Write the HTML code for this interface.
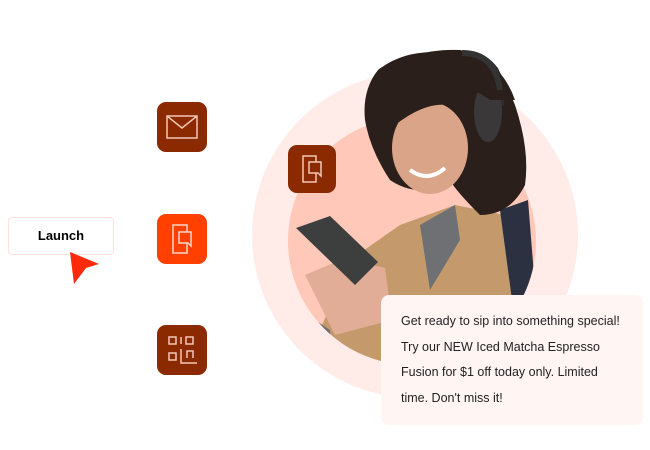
<!DOCTYPE html>
<html><head><style>
body{margin:0;width:650px;height:450px;background:#fff;position:relative;overflow:hidden;font-family:"Liberation Sans",sans-serif}
.a{position:absolute}
.ic{position:absolute;width:50px;height:50px;border-radius:9px;background:#8b2a00}
</style></head><body>
<svg class="a" style="left:0;top:0" width="650" height="450">
<circle cx="415" cy="235" r="163" fill="#ffece8"/>
<circle cx="412" cy="241" r="124" fill="#ffc8b8"/>
<defs><clipPath id="c"><path d="M0 0H650V241H536A124 124 0 0 1 288 241H0Z"/><circle cx="412" cy="241" r="124"/></clipPath></defs>
<g clip-path="url(#c)">
<!-- coat -->
<path d="M320 330 L350 260 L400 225 L455 205 L505 215 L530 240 L540 330 L540 400 L320 400Z" fill="#c49a6c"/>
<path d="M420 225 L455 205 L460 240 L430 290Z" fill="#6e7073"/>
<path d="M500 210 L528 200 L536 300 L512 300Z" fill="#2b3140"/>
<!-- hair -->
<path d="M378 70 Q410 45 460 55 Q500 65 515 105 Q530 150 525 185 Q510 215 480 215 Q455 190 450 180 Q420 200 390 180 Q370 150 365 120 Q362 90 378 70Z" fill="#2a1f1a"/>
<ellipse cx="430" cy="148" rx="38" ry="46" fill="#d9a487"/>
<path d="M385 110 Q410 70 470 80 Q480 100 470 115 Q440 90 395 125Z" fill="#2a1f1a"/>
<path d="M460 60 Q480 50 495 70 Q505 90 500 105" stroke="#2e2e2e" stroke-width="7" fill="none"/>
<ellipse cx="488" cy="112" rx="14" ry="30" fill="#3a3838"/>
<path d="M410 170 Q428 183 445 168" stroke="#fff" stroke-width="4" fill="none"/>
<!-- hands & phone -->
<path d="M305 275 L345 258 L385 268 L392 320 L335 335Z" fill="#e2ad96"/>
<path d="M296 228 L330 216 L378 262 L355 285Z" fill="#3d3f3e"/>
<path d="M300 310 L330 330 L335 380 L300 380Z" fill="#6f6f6f"/>
</g>
<path d="M378 80 Q405 48 460 50 Q500 58 515 100 L490 100 Q450 70 400 100Z" fill="#2a1f1a"/>
<path d="M462 53 Q495 53 500 90" stroke="#333" stroke-width="6" fill="none"/>
</svg>
<div class="ic" style="left:157px;top:102px"><svg width="50" height="50"><rect x="10" y="14" width="30" height="22" fill="none" stroke="#f4c6b6" stroke-width="1.5"/><path d="M10 14 L25 26 L40 14" fill="none" stroke="#f4c6b6" stroke-width="1.5"/></svg></div>
<div class="ic" style="left:157px;top:214px;background:#ff4000"><svg width="50" height="50"><rect x="16" y="11" width="14" height="28" fill="none" stroke="#ffd6c8" stroke-width="1.5"/><path d="M22 18 H34 V32 L31 29 H22Z" fill="#ff4000" stroke="#ffd6c8" stroke-width="1.5"/></svg></div>
<div class="ic" style="left:157px;top:325px"><svg width="50" height="50"><g fill="none" stroke="#f4c6b6" stroke-width="1.5"><rect x="12" y="12" width="7" height="7"/><rect x="29" y="12" width="7" height="7"/><rect x="12" y="28" width="7" height="7"/><path d="M24 12V19M24 24V38H40M30 33V26H36V33"/></g></svg></div>
<div class="ic" style="left:288px;top:145px;width:48px;height:48px"><svg width="48" height="48"><rect x="15" y="11" width="13" height="26" fill="none" stroke="#f4c6b6" stroke-width="1.5"/><path d="M21 17 H33 V31 L30 28 H21Z" fill="#8b2a00" stroke="#f4c6b6" stroke-width="1.5"/></svg></div>
<div class="a" style="left:8px;top:217px;width:104px;height:36px;border:1px solid #ffe0da;border-radius:4px;background:#fff;font-weight:bold;font-size:13px;line-height:36px;text-align:center">Launch</div>
<svg class="a" style="left:66px;top:250px" width="40" height="36"><path d="M4 2 L33 14 L20 18 L8 34Z" fill="#ff2a0a"/></svg>
<div class="a" style="left:381px;top:295px;width:262px;height:130px;background:#fff5f3;border-radius:8px;box-sizing:border-box;padding:14px 0 0 20px;font-size:12.5px;line-height:25.7px;color:#222">Get ready to sip into something special!<br>Try our NEW Iced Matcha Espresso<br>Fusion for $1 off today only. Limited<br>time. Don't miss it!</div>
</body></html>
